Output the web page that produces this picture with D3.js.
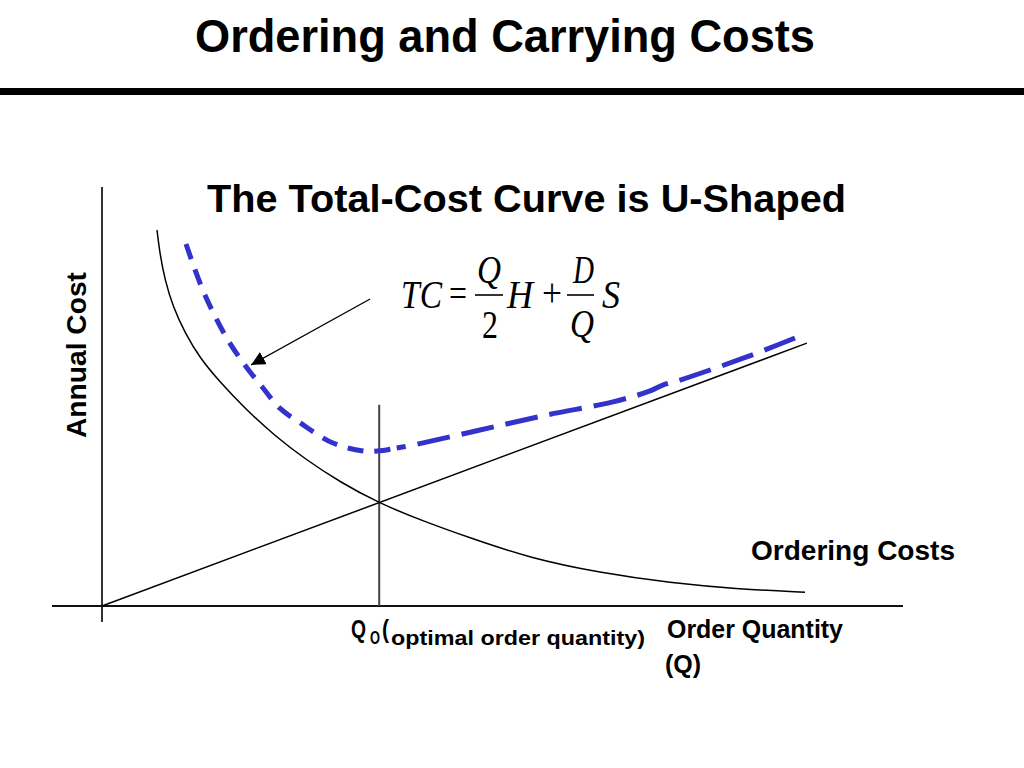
<!DOCTYPE html>
<html><head><meta charset="utf-8">
<script src="https://cdn.jsdelivr.net/npm/d3@7"></script>
<style>html,body{margin:0;padding:0;background:#fff;overflow:hidden}</style>
</head><body>
<svg id="chart" width="1024" height="768"></svg>
<script>
// ---- data ----
const orderingQ    = [7.86, 8.29, 9.0, 10.14, 11.86, 14.0, 16.86, 20.43, 24.71, 29.0, 34.0, 39.57, 45.43, 52.57, 61.14, 71.14, 81.14, 91.14, 100.43];
const orderingCost = [89.5, 83.6, 77.6, 71.2, 65.0, 59.0, 53.3, 47.0, 40.5, 35.0, 29.5, 24.5, 20.5, 16.2, 11.4, 7.9, 5.5, 4.0, 3.3];
const carryingQ    = [0, 100.7];
const carryingCost = [0, 62.6];
const totalLeftQ    = [12.0, 14.0, 15.7, 18.0, 20.4, 23.0, 25.4, 28.3, 33.0, 37.3, 39.4, 42.1];
const totalLeftCost = [86.2, 76.9, 70.5, 63.3, 57.4, 51.9, 47.1, 43.6, 38.8, 36.9, 36.9, 37.6];
const totalRightQ    = [42.1, 44.4, 54.0, 63.6, 73.0, 78.3, 80.1, 82.6, 92.1, 99.0];
const totalRightCost = [37.6, 38.3, 41.9, 45.5, 48.6, 51.2, 52.6, 53.8, 59.3, 63.8];
const optimalQ = 39.6;
const optimalLineTop = 47.9;
const arrowQ = [38.3, 21.3];
const arrowCost = [73.1, 57.4];

const title = "Ordering and Carrying Costs";
const subtitle = "The Total-Cost Curve is U-Shaped";
const yLabel = "Annual Cost";
const curveLabel = "Ordering Costs";
const xLabel1 = "Order Quantity";
const xLabel2 = "(Q)";

// ---- drawing ----
const svg = d3.select("#chart");
const x = d3.scaleLinear().domain([0, 100]).range([102, 802]);
const y = d3.scaleLinear().domain([0, 100]).range([606, 186]);
const sans = "'Liberation Sans',Arial,Helvetica,sans-serif";
const serif = "'Liberation Serif','Times New Roman',serif";

function txt(t, xx, yy, size, len, opts) {
  opts = opts || {};
  const e = svg.append("text").attr("x", xx).attr("y", yy)
    .attr("font-family", opts.family || sans)
    .attr("font-weight", opts.weight || "bold")
    .attr("font-style", opts.style || "normal")
    .attr("font-size", size);
  if (len) e.attr("textLength", len).attr("lengthAdjust", "spacingAndGlyphs");
  e.text(t);
  return e;
}

// title + rule
txt(title, 195, 52, 46, 620, {family: "'Liberation Sans Narrow','Liberation Sans',Arial,sans-serif"});
svg.append("rect").attr("x", 0).attr("y", 88).attr("width", 1024).attr("height", 7).attr("fill", "#000");

// axes
svg.append("line").attr("x1", x(0)).attr("x2", x(0)).attr("y1", 187).attr("y2", 622)
  .attr("stroke", "#333").attr("stroke-width", 2);
svg.append("line").attr("x1", 52).attr("x2", 903).attr("y1", y(0)).attr("y2", y(0))
  .attr("stroke", "#111").attr("stroke-width", 2);

// optimal Q line
svg.append("line").attr("x1", x(optimalQ)).attr("x2", x(optimalQ))
  .attr("y1", y(optimalLineTop)).attr("y2", y(0))
  .attr("stroke", "#444").attr("stroke-width", 2);

// carrying cost line
svg.append("path").datum(d3.zip(carryingQ, carryingCost))
  .attr("d", d3.line().x(d => x(d[0])).y(d => y(d[1])))
  .attr("fill", "none").attr("stroke", "#000").attr("stroke-width", 1.5);

// ordering cost curve
svg.append("path").datum(d3.zip(orderingQ, orderingCost))
  .attr("d", d3.line().x(d => x(d[0])).y(d => y(d[1])).curve(d3.curveBasis))
  .attr("fill", "none").attr("stroke", "#000").attr("stroke-width", 1.5);

// total cost (dashed)
const tline = d3.line().x(d => x(d[0])).y(d => y(d[1])).curve(d3.curveCatmullRom.alpha(0.5));
svg.append("path").datum(d3.zip(totalLeftQ, totalLeftCost))
  .attr("d", tline).attr("fill", "none").attr("stroke", "#3333cc").attr("stroke-width", 5)
  .attr("stroke-dasharray", "16,11");
const right = svg.append("path").datum(d3.zip(totalRightQ, totalRightCost))
  .attr("d", tline).attr("fill", "none").attr("stroke", "#3333cc").attr("stroke-width", 5)
  .attr("stroke-dasharray", "33,12");
const L = right.node().getTotalLength();
right.attr("stroke-dashoffset", 33 - (L % 45));

// arrow
svg.append("defs").append("marker").attr("id", "arr")
  .attr("viewBox", "0 0 10 10").attr("refX", 10).attr("refY", 5)
  .attr("markerWidth", 14).attr("markerHeight", 14).attr("markerUnits", "userSpaceOnUse")
  .attr("orient", "auto")
  .append("path").attr("d", "M0,0 L10,5 L0,10 z").attr("fill", "#000");
svg.append("line")
  .attr("x1", x(arrowQ[0])).attr("y1", y(arrowCost[0]))
  .attr("x2", x(arrowQ[1])).attr("y2", y(arrowCost[1]))
  .attr("stroke", "#000").attr("stroke-width", 1.3).attr("marker-end", "url(#arr)");

// subtitle
txt(subtitle, 207, 212, 39, 639);

// formula
const it = {family: serif, weight: "normal", style: "italic"};
const up = {family: serif, weight: "normal", style: "normal"};
txt("TC", 401, 308, 40, 41, it);
txt("=", 449, 307, 40, 18, up);
txt("Q", 477, 283, 40, 24, it);
txt("2", 482, 338, 40, 16, up);
txt("H", 507, 308, 40, 26, it);
txt("+", 542, 306, 40, 20, up);
txt("D", 573, 283, 40, 21, it);
txt("Q", 570, 337, 40, 24, it);
txt("S", 602, 308, 40, 18, it);
svg.append("line").attr("x1", 475).attr("x2", 503).attr("y1", 295).attr("y2", 295).attr("stroke", "#000").attr("stroke-width", 1.6);
svg.append("line").attr("x1", 567).attr("x2", 594).attr("y1", 295).attr("y2", 295).attr("stroke", "#000").attr("stroke-width", 1.6);

// y label
svg.append("text").attr("transform", "translate(86,355) rotate(-90)")
  .attr("text-anchor", "middle")
  .attr("font-family", sans).attr("font-weight", "bold").attr("font-size", 27)
  .attr("textLength", 166).attr("lengthAdjust", "spacingAndGlyphs")
  .text(yLabel);

// ordering costs label
txt(curveLabel, 751, 560, 27, 204);

// Q0 label
txt("Q", 351, 638, 26, 15);
txt("O", 370, 644, 18, 10);
txt("(", 382, 638, 26, 7);
txt("optimal order quantity)", 391, 645, 21, 254);

// x label
txt(xLabel1, 667, 638, 25, 176);
txt(xLabel2, 665, 673, 25, null);
</script>
</body></html>
